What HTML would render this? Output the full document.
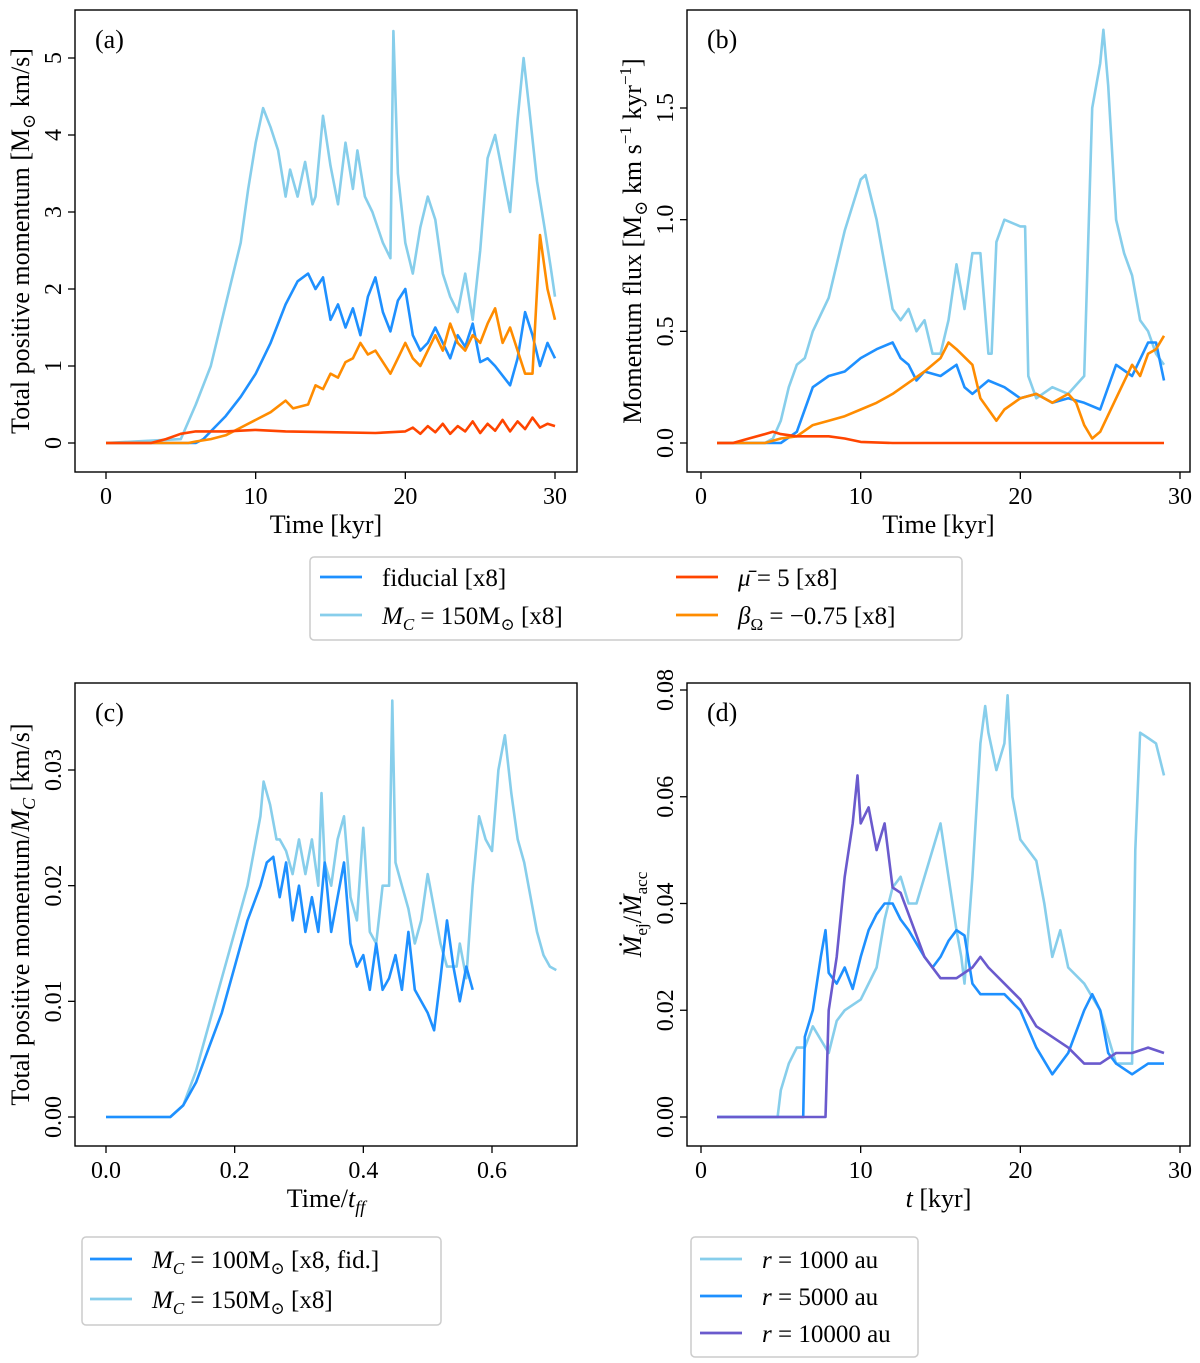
<!DOCTYPE html>
<html><head><meta charset="utf-8">
<style>
body{margin:0;background:#fff;}
svg{display:block;font-family:"Liberation Serif","DejaVu Serif",serif;}
</style></head>
<body>
<svg id="fig" width="1200" height="1363" viewBox="0 0 1200 1363" xmlns="http://www.w3.org/2000/svg"></svg>
<script>
// ---- Panel (a) data ----
const aT_light=[0,5,6,7,8,9,9.5,10,10.5,11,11.5,12,12.3,12.8,13.3,13.8,14,14.5,15,15.5,16,16.5,16.8,17.3,17.8,18.5,19,19.2,19.5,20,20.5,21,21.5,22,22.5,23,23.5,24,24.5,25,25.5,26,26.5,27,27.5,27.9,28.3,28.8,29.3,29.7,30];
const aV_light=[0,0.05,0.5,1.0,1.8,2.6,3.3,3.9,4.35,4.1,3.8,3.2,3.55,3.2,3.65,3.1,3.2,4.25,3.6,3.1,3.9,3.3,3.8,3.2,3.0,2.6,2.4,5.35,3.5,2.6,2.2,2.8,3.2,2.9,2.2,1.9,1.7,2.2,1.6,2.5,3.7,4.0,3.5,3.0,4.2,5.0,4.3,3.4,2.8,2.3,1.9];
const aT_fid=[0,6,6.5,7,8,9,10,11,12,12.8,13.5,14,14.5,15,15.5,16,16.5,17,17.5,18,18.5,19,19.5,20,20.5,21,21.5,22,22.5,23,23.5,24,24.5,25,25.5,26,27,27.5,28,28.5,29,29.5,30];
const aV_fid=[0,0,0.05,0.15,0.35,0.6,0.9,1.3,1.8,2.1,2.2,2.0,2.15,1.6,1.8,1.5,1.75,1.4,1.9,2.15,1.7,1.45,1.85,2.0,1.4,1.2,1.3,1.5,1.3,1.1,1.4,1.25,1.55,1.05,1.1,1.0,0.75,1.1,1.7,1.4,1.0,1.3,1.1];
const aT_or=[0,5.5,6,7,8,9,10,11,12,12.5,13.5,14,14.5,15,15.5,16,16.5,17,17.5,18,18.5,19,19.5,20,20.5,21,21.5,22,22.5,23,23.5,24,24.5,25,25.5,26,26.5,27,27.5,28,28.5,29,29.5,30];
const aV_or=[0,0,0.02,0.05,0.1,0.2,0.3,0.4,0.55,0.45,0.5,0.75,0.7,0.9,0.85,1.05,1.1,1.3,1.15,1.2,1.05,0.9,1.1,1.3,1.1,1.0,1.2,1.4,1.2,1.55,1.3,1.2,1.4,1.3,1.55,1.75,1.3,1.5,1.2,0.9,0.9,2.7,2.0,1.6];
const aT_red=[0,3,4,5,6,8,10,12,15,18,20,20.5,21,21.5,22,22.5,23,23.5,24,24.5,25,25.5,26,26.5,27,27.5,28,28.5,29,29.5,30];
const aV_red=[0,0,0.05,0.12,0.15,0.15,0.17,0.15,0.14,0.13,0.15,0.2,0.12,0.22,0.14,0.25,0.12,0.22,0.15,0.28,0.13,0.25,0.16,0.3,0.15,0.28,0.18,0.33,0.2,0.25,0.22];
// ---- Panel (b) data ----
const bT_light=[1,4,4.5,5,5.5,6,6.5,7,8,9,10,10.3,11,11.5,12,12.5,13,13.5,14,14.5,15,15.5,16,16.5,17,17.5,18,18.2,18.5,19,20,20.3,20.5,21,22,23,24,24.5,25,25.2,25.5,26,26.5,27,27.5,28,28.5,29];
const bV_light=[0,0,0.02,0.1,0.25,0.35,0.38,0.5,0.65,0.95,1.18,1.2,1.0,0.8,0.6,0.55,0.6,0.5,0.55,0.4,0.4,0.55,0.8,0.6,0.85,0.85,0.4,0.4,0.9,1.0,0.97,0.97,0.3,0.2,0.25,0.22,0.3,1.5,1.7,1.85,1.6,1.0,0.85,0.75,0.55,0.5,0.4,0.35];
const bT_fid=[1,5,6,6.5,7,8,9,10,11,12,12.5,13,13.5,14,15,16,16.5,17,18,19,20,21,22,23,24,25,26,27,28,28.5,29];
const bV_fid=[0,0,0.05,0.15,0.25,0.3,0.32,0.38,0.42,0.45,0.38,0.35,0.28,0.32,0.3,0.35,0.25,0.22,0.28,0.25,0.2,0.22,0.18,0.2,0.18,0.15,0.35,0.3,0.45,0.45,0.28];
const bT_or=[1,4,5,6,7,8,9,10,11,12,13,14,15,15.5,16,17,17.5,18,18.5,19,20,21,22,23,23.5,24,24.5,25,26,27,27.5,28,28.5,29];
const bV_or=[0,0,0.02,0.03,0.08,0.1,0.12,0.15,0.18,0.22,0.27,0.32,0.38,0.45,0.42,0.35,0.2,0.15,0.1,0.15,0.2,0.22,0.18,0.22,0.18,0.08,0.02,0.05,0.2,0.35,0.3,0.4,0.42,0.48];
const bT_red=[1,2,3,4,4.5,5,6,7,8,9,10,12,29];
const bV_red=[0,0,0.02,0.04,0.05,0.04,0.03,0.03,0.03,0.02,0.005,0,0];
// ---- Panel (c) data ----
const cT_light=[0,0.1,0.12,0.14,0.16,0.18,0.2,0.22,0.24,0.245,0.255,0.265,0.27,0.28,0.29,0.30,0.31,0.32,0.33,0.335,0.34,0.35,0.36,0.37,0.38,0.39,0.40,0.41,0.42,0.43,0.44,0.445,0.45,0.46,0.47,0.48,0.49,0.50,0.51,0.52,0.53,0.545,0.55,0.56,0.57,0.58,0.59,0.60,0.61,0.62,0.63,0.64,0.65,0.66,0.67,0.68,0.69,0.70];
const cV_light=[0,0,0.001,0.004,0.008,0.012,0.016,0.02,0.026,0.029,0.027,0.024,0.024,0.023,0.021,0.024,0.021,0.024,0.020,0.028,0.022,0.020,0.024,0.026,0.019,0.017,0.025,0.016,0.015,0.020,0.020,0.036,0.022,0.020,0.018,0.015,0.017,0.021,0.018,0.015,0.013,0.013,0.015,0.012,0.020,0.026,0.024,0.023,0.030,0.033,0.028,0.024,0.022,0.019,0.016,0.014,0.013,0.0127];
const cT_fid=[0,0.1,0.12,0.14,0.16,0.18,0.2,0.22,0.24,0.25,0.26,0.27,0.28,0.29,0.30,0.31,0.32,0.33,0.34,0.35,0.36,0.37,0.38,0.39,0.40,0.41,0.42,0.43,0.44,0.45,0.46,0.47,0.48,0.49,0.50,0.51,0.52,0.53,0.54,0.55,0.56,0.57];
const cV_fid=[0,0,0.001,0.003,0.006,0.009,0.013,0.017,0.02,0.022,0.0225,0.019,0.022,0.017,0.020,0.016,0.019,0.016,0.022,0.016,0.019,0.022,0.015,0.013,0.014,0.011,0.015,0.011,0.012,0.014,0.011,0.016,0.011,0.010,0.009,0.0075,0.012,0.017,0.013,0.010,0.013,0.011];
// ---- Panel (d) data ----
const dT_1000=[1,4.8,5,5.5,6,6.5,7,8,8.5,9,10,11,11.5,12,12.5,13,13.5,14,14.5,15,15.5,16,16.3,16.5,17,17.5,17.8,18,18.5,19,19.2,19.5,20,20.5,21,21.5,22,22.5,23,24,25,26,27,27.2,27.5,28,28.5,29];
const dV_1000=[0,0,0.005,0.01,0.013,0.013,0.017,0.012,0.018,0.02,0.022,0.028,0.037,0.043,0.045,0.04,0.04,0.045,0.05,0.055,0.045,0.035,0.03,0.025,0.045,0.07,0.077,0.072,0.065,0.07,0.079,0.06,0.052,0.05,0.048,0.04,0.03,0.035,0.028,0.025,0.02,0.01,0.01,0.05,0.072,0.071,0.07,0.064];
const dT_5000=[1,6.4,6.5,7,7.5,7.8,8,8.5,9,9.5,10,10.5,11,11.5,12,12.5,13,14,14.5,15,15.5,16,16.5,17,17.5,18,19,20,21,22,23,24,24.5,25,25.5,26,27,28,29];
const dV_5000=[0,0,0.015,0.02,0.03,0.035,0.027,0.025,0.028,0.024,0.03,0.035,0.038,0.04,0.04,0.037,0.035,0.03,0.028,0.03,0.033,0.035,0.034,0.025,0.023,0.023,0.023,0.02,0.013,0.008,0.012,0.02,0.023,0.02,0.012,0.01,0.008,0.01,0.01];
const dT_10000=[1,7.8,8,8.5,9,9.5,9.8,10,10.5,11,11.5,12,12.5,13,14,15,16,17,17.5,18,19,20,21,22,23,24,25,26,27,28,29];
const dV_10000=[0,0,0.02,0.03,0.045,0.055,0.064,0.055,0.058,0.05,0.055,0.043,0.042,0.038,0.03,0.026,0.026,0.028,0.03,0.028,0.025,0.022,0.017,0.015,0.013,0.01,0.01,0.012,0.012,0.013,0.012];
// tick labels
const aXTicks=[0,10,20,30], aYTicks=[0,1,2,3,4,5];
const bXTicks=[10,20,30], bYTicks=[0,0.5,1.0,1.5];
const cXTicks=[0,0.2,0.4,0.6], cYTicks=[0,0.01,0.02,0.03];
const dXTicks=[0,10,20,30], dYTicks=[0,0.02,0.04,0.06,0.08];

const NS="http://www.w3.org/2000/svg";
const svg=document.getElementById('fig');
function el(tag,attrs,parent){const e=document.createElementNS(NS,tag);for(const k in attrs)e.setAttribute(k,attrs[k]);(parent||svg).appendChild(e);return e;}

const C={light:'#87ceeb',fid:'#1e90ff',red:'#ff4500',or:'#ff8c00',pur:'#6a5acd'};

function panel(p){
  const g=el('g',{});
  
  
  const sx=v=>p.x0px+(v-p.x0)*(p.x1px-p.x0px)/(p.x1-p.x0);
  const sy=v=>p.y0px+(v-p.y0)*(p.y1px-p.y0px)/(p.y1-p.y0);
  const clip='clip-'+p.name;
  const cp=el('clipPath',{id:clip},g);el('rect',{x:p.L,y:p.T,width:p.R-p.L,height:p.B-p.T},cp);
  p.series.forEach(s=>{
    let d='';s.t.forEach((t,i)=>{d+=(i?'L':'M')+sx(t).toFixed(1)+','+sy(s.v[i]).toFixed(1);});
    const path=el('path',{d:d,fill:'none',stroke:s.c,'stroke-width':2.6,'stroke-linejoin':'round','clip-path':'url(#'+clip+')'},g);
    
    
  });
  const frame=el('rect',{x:p.L,y:p.T,width:p.R-p.L,height:p.B-p.T,fill:'none',stroke:'#000','stroke-width':1.4},g);
  
  
  p.xt.forEach(v=>{const x=sx(v);
    el('line',{x1:x,x2:x,y1:p.B,y2:p.B+7,stroke:'#000','stroke-width':1.3},g);
    const t=el('text',{x:x,y:p.B+32,'font-size':24,'text-anchor':'middle'},g);t.textContent=p.xf(v);
    
    
  });
  p.yt.forEach(v=>{const y=sy(v);
    el('line',{x1:p.L,x2:p.L-7,y1:y,y2:y,stroke:'#000','stroke-width':1.3},g);
    const t=el('text',{x:0,y:0,'font-size':24,'text-anchor':'middle',transform:`translate(${p.L-14},${y}) rotate(-90)`},g);t.textContent=p.yf(v);
    
    
  });
  const lab=el('text',{x:p.L+20,y:p.T+38,'font-size':26},g);lab.textContent=p.label;
  
  
  const xl=el('text',{x:(p.L+p.R)/2,y:p.B+61,'font-size':26,'text-anchor':'middle'},g);xl.innerHTML=p.xlabel;
  
  
  const yl=el('text',{x:0,y:0,'font-size':26,'text-anchor':'middle',transform:`translate(${p.L-46},${(p.T+p.B)/2}) rotate(-90)`},g);yl.innerHTML=p.ylabel;
  
  
}
const f0=v=>String(v), f1=v=>v.toFixed(1), f2=v=>v.toFixed(2);
panel({name:'panel-a',L:75,R:577,T:10,B:472,x0:0,x1:30,x0px:106,x1px:555,y0:0,y1:5,y0px:443,y1px:58,xt:aXTicks,yt:aYTicks,xf:f0,yf:f0,label:'(a)',
 xlabel:'Time [kyr]',ylabel:'Total positive momentum [M<tspan font-size="18" dy="6">⊙</tspan><tspan dy="-6"> km/s]</tspan>',
 series:[{name:'mc150-line',t:aT_light,v:aV_light,c:C.light},{name:'fiducial-line',t:aT_fid,v:aV_fid,c:C.fid},{name:'beta-line',t:aT_or,v:aV_or,c:C.or},{name:'mu5-line',t:aT_red,v:aV_red,c:C.red}]});
panel({name:'panel-b',L:687,R:1190,T:10,B:472,x0:0,x1:30,x0px:701,x1px:1180,y0:0,y1:1.5,y0px:443,y1px:108,xt:[0].concat(bXTicks),yt:bYTicks,xf:f0,yf:f1,label:'(b)',
 xlabel:'Time [kyr]',ylabel:'Momentum flux [M<tspan font-size="18" dy="6">⊙</tspan><tspan dy="-6"> km s</tspan><tspan font-size="17" dy="-10">−1</tspan><tspan dy="10"> kyr</tspan><tspan font-size="17" dy="-10">−1</tspan><tspan dy="10">]</tspan>',
 series:[{name:'mc150-line',t:bT_light,v:bV_light,c:C.light},{name:'fiducial-line',t:bT_fid,v:bV_fid,c:C.fid},{name:'beta-line',t:bT_or,v:bV_or,c:C.or},{name:'mu5-line',t:bT_red,v:bV_red,c:C.red}]});
panel({name:'panel-c',L:75,R:577,T:683,B:1146,x0:0,x1:0.6,x0px:106,x1px:492,y0:0,y1:0.03,y0px:1117,y1px:770,xt:cXTicks,yt:cYTicks,xf:f1,yf:f2,label:'(c)',
 xlabel:'Time/<tspan font-style="italic">t</tspan><tspan font-style="italic" font-size="18" dy="6">ff</tspan>',ylabel:'Total positive momentum/<tspan font-style="italic">M</tspan><tspan font-style="italic" font-size="18" dy="6">C</tspan><tspan dy="-6"> [km/s]</tspan>',
 series:[{name:'mc150-line',t:cT_light,v:cV_light,c:C.light},{name:'mc100-fid-line',t:cT_fid,v:cV_fid,c:C.fid}]});
panel({name:'panel-d',L:687,R:1190,T:683,B:1146,x0:0,x1:30,x0px:701,x1px:1180,y0:0,y1:0.08,y0px:1117,y1px:690,xt:dXTicks,yt:dYTicks,xf:f0,yf:f2,label:'(d)',
 xlabel:'<tspan font-style="italic">t</tspan> [kyr]',ylabel:'<tspan font-style="italic">Ṁ</tspan><tspan font-size="17" dy="6">ej</tspan><tspan dy="-6">/</tspan><tspan font-style="italic">Ṁ</tspan><tspan font-size="17" dy="6">acc</tspan>',
 series:[{name:'r1000-line',t:dT_1000,v:dV_1000,c:C.light},{name:'r5000-line',t:dT_5000,v:dV_5000,c:C.fid},{name:'r10000-line',t:dT_10000,v:dV_10000,c:C.pur}]});

function legend(name,x,y,w,h,entries){
  const g=el('g',{});
  
  
  el('rect',{x:x,y:y,width:w,height:h,rx:4,fill:'#fff',stroke:'#ccc','stroke-width':1.5},g);
  entries.forEach(e=>{
    const eg=el('g',{},g);
    
    
    el('line',{x1:e.x,x2:e.x+42,y1:e.y,y2:e.y,stroke:e.c,'stroke-width':2.8},eg);
    const t=el('text',{x:e.x+62,y:e.y+9,'font-size':25},eg);t.innerHTML=e.h;
  });
}
const MC150='<tspan font-style="italic">M</tspan><tspan font-style="italic" font-size="17" dy="6">C</tspan><tspan dy="-6"> = 150M</tspan><tspan font-size="17" dy="6">⊙</tspan><tspan dy="-6">  [x8]</tspan>';
legend('legend-top',310,557,652,83,[
 {x:320,y:577,c:C.fid,h:'fiducial [x8]'},
 {x:320,y:615,c:C.light,h:MC150},
 {x:676,y:577,c:C.red,h:'<tspan font-style="italic">μ̄</tspan> = 5 [x8]'},
 {x:676,y:615,c:C.or,h:'<tspan font-style="italic">β</tspan><tspan font-size="17" dy="6">Ω</tspan><tspan dy="-6"> = −0.75 [x8]</tspan>'}]);
legend('legend-c',82,1237,359,88,[
 {x:90,y:1259,c:C.fid,h:'<tspan font-style="italic">M</tspan><tspan font-style="italic" font-size="17" dy="6">C</tspan><tspan dy="-6"> = 100M</tspan><tspan font-size="17" dy="6">⊙</tspan><tspan dy="-6">  [x8, fid.]</tspan>'},
 {x:90,y:1299,c:C.light,h:MC150}]);
legend('legend-d',691,1237,227,120,[
 {x:700,y:1259,c:C.light,h:'<tspan font-style="italic">r</tspan> = 1000 au'},
 {x:700,y:1296,c:C.fid,h:'<tspan font-style="italic">r</tspan> = 5000 au'},
 {x:700,y:1333,c:C.pur,h:'<tspan font-style="italic">r</tspan> = 10000 au'}]);
</script>
</body></html>
